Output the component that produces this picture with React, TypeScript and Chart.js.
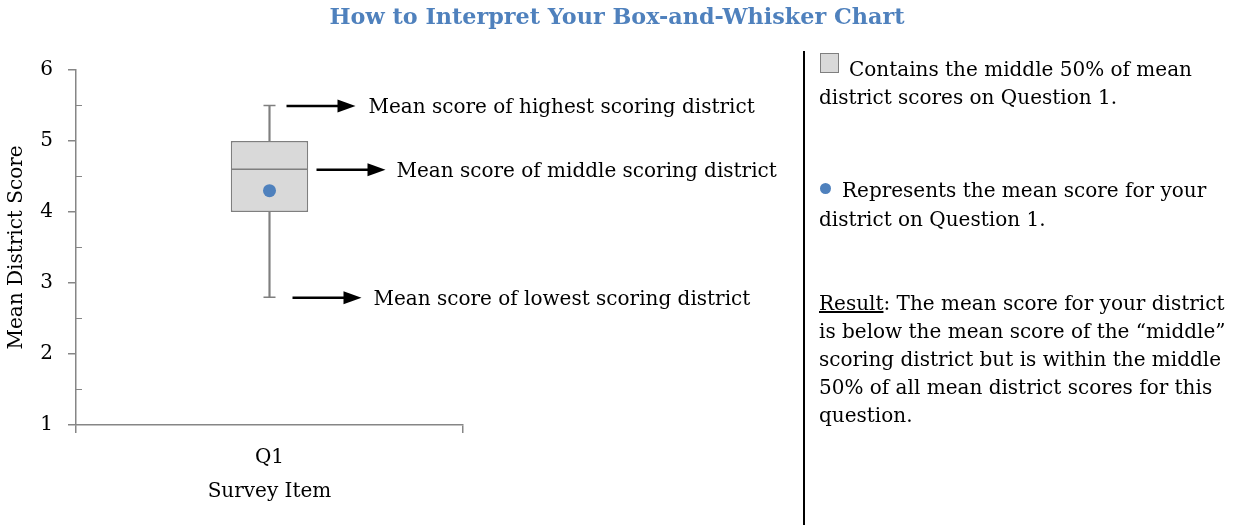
import React, { useEffect, useRef } from "react";
import { Chart, registerables } from "chart.js";

Chart.register(...registerables);

// ---- data ----
const TITLE = "How to Interpret Your Box-and-Whisker Chart";
const categories = ["Q1"];
const whiskerMin = [2.8];
const boxLower = [4.0];
const medians = [4.6];
const boxUpper = [5.0];
const whiskerMax = [5.5];
const yourMean = [4.3];
const yMin = 1;
const yMax = 6;
const yStep = 1;
const yTitle = "Mean District Score";
const xTitle = "Survey Item";
const annotationTexts = [
  "Mean score of highest scoring district",
  "Mean score of middle scoring district",
  "Mean score of lowest scoring district",
];
const legendBoxLines = ["Contains the middle 50% of mean", "district scores on Question 1."];
const legendDotLines = ["Represents the mean score for your", "district on Question 1."];
const resultLabel = "Result";
const resultLines = [
  ": The mean score for your district",
  "is below the mean score of the \u201cmiddle\u201d",
  "scoring district but is within the middle",
  "50% of all mean district scores for this",
  "question.",
];

// ---- styles ----
const SERIF = '"DejaVu Serif", serif';
const AXIS = "#868686";
const BOX_LINE = "#7F7F7F";
const BOX_FILL = "#D9D9D9";
const BLUE = "#4F81BD";
const FS = 20;

const overlayPlugin = {
  id: "overlay",
  afterDraw(chart: any) {
    const { ctx } = chart;
    const x = chart.scales.x;
    const y = chart.scales.y;
    ctx.save();
    // minor ticks (inside)
    ctx.strokeStyle = AXIS;
    ctx.lineWidth = 1;
    for (let v = yMin + yStep / 2; v < yMax; v += yStep) {
      const py = Math.round(y.getPixelForValue(v)) + 0.5;
      ctx.beginPath();
      ctx.moveTo(x.left, py);
      ctx.lineTo(x.left + 6, py);
      ctx.stroke();
    }
    // arrows + annotations
    const cx = x.getPixelForValue(0);
    const values = [whiskerMax[0], medians[0], whiskerMin[0]];
    const startOff = [17, 47, 23];
    const tipOff = [86, 116, 92];
    const textOff = [99, 127, 104];
    ctx.fillStyle = "#000";
    ctx.strokeStyle = "#000";
    ctx.font = `${FS}px ${SERIF}`;
    ctx.textBaseline = "middle";
    ctx.textAlign = "left";
    values.forEach((v, i) => {
      const py = y.getPixelForValue(v) + 0.5;
      const sx = cx + startOff[i];
      const tx = cx + tipOff[i];
      const headLen = 18;
      ctx.lineWidth = 2.5;
      ctx.beginPath();
      ctx.moveTo(sx, py);
      ctx.lineTo(tx - headLen + 2, py);
      ctx.stroke();
      ctx.beginPath();
      ctx.moveTo(tx, py);
      ctx.lineTo(tx - headLen, py - 6.5);
      ctx.lineTo(tx - headLen, py + 6.5);
      ctx.closePath();
      ctx.fill();
      ctx.fillText(annotationTexts[i], cx + textOff[i], py + 2);
    });
    ctx.restore();
  },
};

export default function App() {
  const ref = useRef<HTMLCanvasElement | null>(null);

  useEffect(() => {
    if (!ref.current) return;
    Chart.defaults.font.family = SERIF;
    const pts = (arr: number[]) => arr.map((v, i) => ({ x: categories[i], y: v }));
    const chart = new Chart(ref.current, {
      type: "bar",
      data: {
        labels: categories,
        datasets: [
          {
            type: "bar",
            label: "Middle 50%",
            data: categories.map((_, i) => [boxLower[i], boxUpper[i]]),
            backgroundColor: BOX_FILL,
            borderColor: BOX_LINE,
            borderWidth: 1.5,
            borderSkipped: false,
            barPercentage: 0.2,
            categoryPercentage: 1,
            grouped: false,
            order: 3,
          } as any,
          {
            type: "bar",
            label: "Lower whisker",
            data: categories.map((_, i) => [whiskerMin[i], boxLower[i]]),
            backgroundColor: BOX_LINE,
            borderWidth: 0,
            barThickness: 1.5,
            grouped: false,
            order: 4,
          } as any,
          {
            type: "bar",
            label: "Upper whisker",
            data: categories.map((_, i) => [boxUpper[i], whiskerMax[i]]),
            backgroundColor: BOX_LINE,
            borderWidth: 0,
            barThickness: 1.5,
            grouped: false,
            order: 4,
          } as any,
          {
            type: "line",
            label: "Whisker caps",
            data: [...pts(whiskerMin), ...pts(whiskerMax)],
            showLine: false,
            pointStyle: "line",
            pointRadius: 6,
            pointBorderColor: BOX_LINE,
            pointBorderWidth: 1.5,
            order: 2,
          } as any,
          {
            type: "line",
            label: "Median",
            data: pts(medians),
            showLine: false,
            pointStyle: "line",
            pointRadius: 38.5,
            pointBorderColor: BOX_LINE,
            pointBorderWidth: 1.5,
            order: 1,
          } as any,
          {
            type: "line",
            label: "Your district",
            data: pts(yourMean),
            showLine: false,
            pointStyle: "circle",
            pointRadius: 6.5,
            pointBackgroundColor: BLUE,
            pointBorderColor: BLUE,
            pointBorderWidth: 0,
            order: 0,
          } as any,
        ],
      },
      options: {
        responsive: false,
        animation: false,
        events: [],
        layout: { padding: 0 },
        plugins: {
          legend: { display: false },
          tooltip: { enabled: false },
          title: {
            display: true,
            text: TITLE,
            color: BLUE,
            font: { family: SERIF, size: 22.3, weight: "bold" },
            padding: { top: 5, bottom: 38.2 },
          },
        },
        scales: {
          x: {
            type: "category",
            offset: true,
            grid: { offset: true, drawOnChartArea: false, tickLength: 8, color: AXIS, lineWidth: 1.5 },
            border: { display: true, color: AXIS, width: 1.5 },
            ticks: { color: "#000", font: { family: SERIF, size: FS }, padding: 13 },
            title: {
              display: true,
              text: xTitle,
              color: "#000",
              font: { family: SERIF, size: FS },
              padding: { top: 4, bottom: 21 },
            },
            afterFit(s: any) {
              s.height = 100;
            },
          },
          y: {
            type: "linear",
            position: "left",
            min: yMin,
            max: yMax,
            ticks: { stepSize: yStep, color: "#000", font: { family: SERIF, size: FS }, padding: 15 },
            grid: { drawOnChartArea: false, tickLength: 8, color: AXIS, lineWidth: 1.5 },
            border: { display: true, color: AXIS, width: 1.5 },
            title: {
              display: true,
              text: yTitle,
              color: "#000",
              font: { family: SERIF, size: FS },
              padding: { top: 5, bottom: 0 },
            },
            afterFit(s: any) {
              s.width = 76;
            },
          },
          spacer: {
            type: "linear",
            position: "right",
            display: true,
            grid: { display: false },
            border: { display: false },
            ticks: { display: false },
            afterFit(s: any) {
              s.width = 771;
            },
          },
        },
      } as any,
      plugins: [overlayPlugin],
    });
    return () => chart.destroy();
  }, []);

  const text: React.CSSProperties = {
    position: "absolute",
    fontFamily: SERIF,
    fontSize: FS,
    lineHeight: "28px",
    color: "#000",
    whiteSpace: "nowrap",
  };

  return (
    <div style={{ position: "absolute", left: 0, top: 0, width: 1234, height: 525, background: "#fff", overflow: "hidden" }}>
      <canvas ref={ref} width={1234} height={525} style={{ position: "absolute", left: 0, top: 0 }} />
      <div style={{ position: "absolute", left: 803, top: 51, width: 2, height: 474, background: "#000" }} />
      <div
        style={{
          position: "absolute",
          left: 820,
          top: 53,
          width: 19,
          height: 20,
          background: BOX_FILL,
          border: `1.5px solid ${BOX_LINE}`,
          boxSizing: "border-box",
        }}
      />
      <div style={{ ...text, left: 849, top: 55 }}>{legendBoxLines[0]}</div>
      <div style={{ ...text, left: 819, top: 83 }}>{legendBoxLines[1]}</div>
      <div
        style={{ position: "absolute", left: 820, top: 183, width: 11, height: 11, borderRadius: "50%", background: BLUE }}
      />
      <div style={{ ...text, left: 842, top: 176 }}>{legendDotLines[0]}</div>
      <div style={{ ...text, left: 819, top: 205 }}>{legendDotLines[1]}</div>
      <div style={{ ...text, left: 819, top: 289 }}>
        {resultLines.map((l, i) => (
          <div key={i}>
            {i === 0 ? <span style={{ textDecoration: "underline" }}>{resultLabel}</span> : null}
            {l}
          </div>
        ))}
      </div>
    </div>
  );
}
